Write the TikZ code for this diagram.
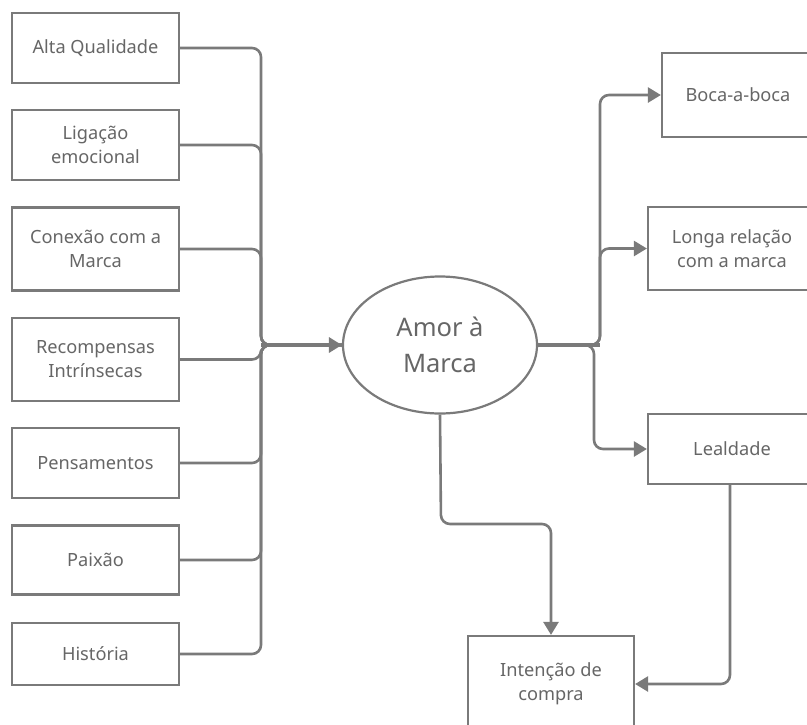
\documentclass[tikz,border=0pt]{standalone}
\usepackage{fontspec}
\setmainfont{Noto Sans}
\usetikzlibrary{arrows.meta,shapes.geometric}
\definecolor{txt}{HTML}{666666}
\definecolor{ln}{HTML}{7A7A7A}
\tikzset{
  box/.style={draw=ln,line width=2.2pt,fill=white,rectangle,align=center,text=txt,
    font=\fontsize{18.2}{24}\selectfont,inner sep=0pt},
  lbox/.style={box,minimum width=167pt},
  oval/.style={draw=ln,line width=2.2pt,ellipse,align=center,text=txt,
    font=\fontsize{25.5}{36}\selectfont,minimum width=194pt,minimum height=137pt,inner sep=0pt},
  conn/.style={draw=ln,line width=2.6pt,rounded corners=9pt},
  trunk/.style={draw=ln,line width=4.5pt},
  tip/.style={-{Triangle[width=15pt,length=13pt]}}
}
\begin{document}
\begin{tikzpicture}[x=1pt,y=-1pt]
\useasboundingbox (0,0) rectangle (807,724);
% left boxes
\node[lbox,minimum height=70pt] (aq) at (95.5,48) {Alta Qualidade};
\node[lbox,minimum height=70pt] (le) at (95.5,145) {Ligação\\emocional};
\node[lbox,minimum height=83pt] (cm) at (95.5,249) {Conexão com a\\Marca};
\node[lbox,minimum height=83pt] (ri) at (95.5,359.5) {Recompensas\\Intrínsecas};
\node[lbox,minimum height=70pt] (pe) at (95.5,463) {Pensamentos};
\node[lbox,minimum height=69pt] (pa) at (95.5,560) {Paixão};
\node[lbox,minimum height=62pt] (hi) at (95.5,654) {História};
% central
\node[oval] (am) at (440,345) {Amor à\\Marca};
% right boxes
\node[box,minimum width=152pt,minimum height=84pt] (bb) at (738,95) {Boca-a-boca};
\node[box,minimum width=168pt,minimum height=83pt] (lr) at (732,248.5) {Longa relação\\com a marca};
\node[box,minimum width=168pt,minimum height=70pt] (ld) at (732,449) {Lealdade};
\node[box,minimum width=166pt,minimum height=96pt] (ic) at (551,684) {Intenção de\\compra};
% junctions
\coordinate (lb) at (261,345);
\coordinate (rb) at (600,345);
\coordinate (rb2) at (594,345);
\coordinate (bm) at (441,524);
\coordinate (ls) at (730,484);
% left connectors
\foreach \n in {aq,le,cm,ri,pe,pa,hi}{
  \draw[conn] (\n.east) -| (lb) -- (am.west);
}
\draw[trunk,tip] (lb) -- (am.west);
% right connectors
\draw[trunk] (am.east) -- (rb);
\draw[conn,tip] (am.east) -- (rb) |- (bb.west);
\draw[conn,tip] (am.east) -- (rb) |- (lr.west);
\draw[conn,tip] (am.east) -- (rb2) |- (ld.west);
% bottom connectors
\draw[conn,tip] (am.south) -- (bm) -| (ic.north);
\draw[conn,tip] (ls) |- (ic.east);
\end{tikzpicture}
\end{document}
